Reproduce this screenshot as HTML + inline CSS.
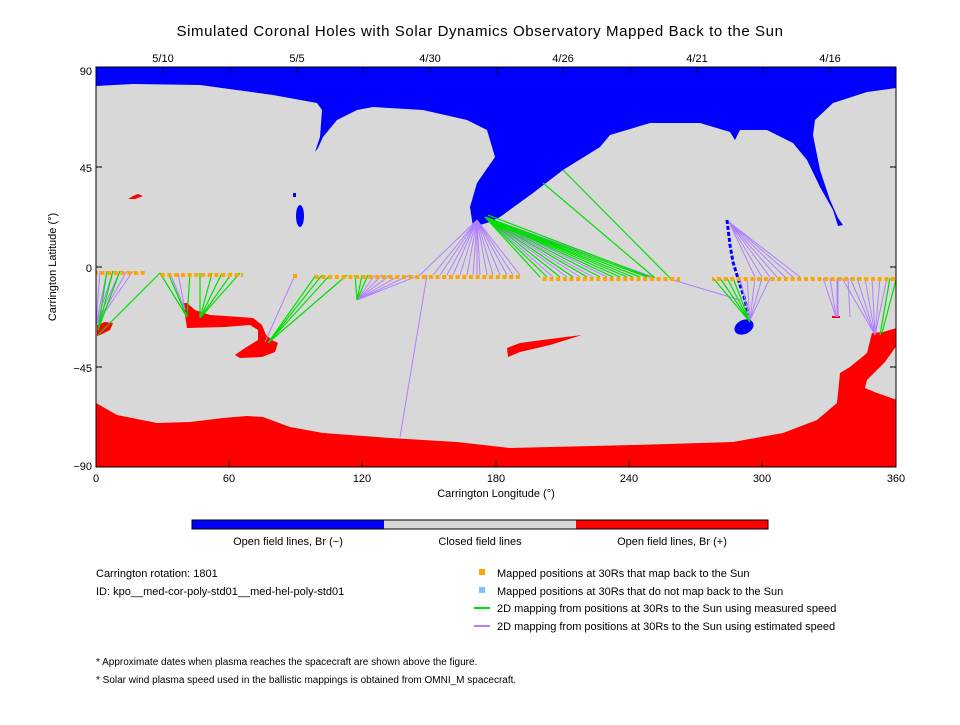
<!DOCTYPE html>
<html><head><meta charset="utf-8"><style>
body{margin:0;background:#fff;}
svg text{font-family:"Liberation Sans",sans-serif;fill:#000;}
</style></head><body>
<svg width="960" height="720" xmlns="http://www.w3.org/2000/svg">
<defs>
<pattern id="dots" x="0" y="0" width="6.7" height="720" patternUnits="userSpaceOnUse"><rect x="0" y="0" width="4" height="720" fill="#ffa500"/></pattern>
<clipPath id="pc"><rect x="96" y="67" width="800" height="400"/></clipPath>
</defs>
<text x="480" y="36" font-size="15" text-anchor="middle" letter-spacing="0.6">Simulated Coronal Holes with Solar Dynamics Observatory Mapped Back to the Sun</text>
<g clip-path="url(#pc)">
<rect x="96" y="67" width="800" height="400" fill="#d8d8d8"/>
<polygon fill="#0000ff" points="96,67 896,67 896,88 867,92 833,103 815,120 813,135 820,170 830,200 838,218 843,225 838,226 833,210 820,187 807,160 793,143 767,130 740,130 735,140 730,132 700,123 650,123 610,135 600,147 563,170 533,193 500,217 490,222 473,227 470,207 477,183 495,157 487,130 467,120 423,110 373,107 357,110 337,120 323,137 318,148 315,152 320,137 322,110 317,103 273,95 200,85 133,84 96,86"/>
<ellipse cx="300" cy="216" rx="4" ry="11" fill="#0000ff"/>
<rect x="293" y="193" width="3" height="4" fill="#0000ff"/>
<ellipse cx="744" cy="327" rx="10" ry="7" fill="#0000ff" transform="rotate(-25 744 327)"/>
<polyline points="727,220 730,245 733,262 740,285 745,300 748,315" fill="none" stroke="#0000ff" stroke-width="3" stroke-dasharray="4 2"/>
<polygon fill="#ff0000" points="96,403 117,415 157,423 190,422 223,418 247,416 263,417 290,427 323,433 390,438 457,442 510,448 633,445 733,442 783,433 817,420 837,403 840,373 850,367 867,353 872,333 883,332 897,328 897,345 885,362 867,380 865,388 877,393 897,400 897,467 96,467"/>
<polygon fill="#ff0000" points="97,325 105,322 113,323 110,330 100,335 97,336"/>
<polygon fill="#ff0000" points="183,303 187,303 195,310 210,315 240,317 253,318 262,325 266,335 272,340 278,343 275,352 262,357 240,358 235,355 245,348 258,340 258,330 250,325 225,327 187,328"/>
<polygon fill="#ff0000" points="128,199 133,196 138,194 143,196 135,199"/>
<polygon fill="#ff0000" points="507,348 520,343 550,339 582,335 550,345 520,352 508,357"/>
<rect x="832" y="316" width="8" height="2" fill="#ff0000"/>
<g stroke="#b080ff" stroke-width="1" fill="none">
<path d="M477 220L420 275M477 220L433 275M477 220L440 275M477 220L447 275M477 220L453 275M477 220L460 275M477 220L467 275M477 220L473 275M477 220L477 275M477 220L480 275M477 220L487 275M477 220L493 275M477 220L500 275M477 220L507 275M477 220L513 275M477 220L520 275"/>
<path d="M427 275L400 437"/>
<path d="M485 217L553 277M485 217L567 277M485 217L580 277M485 217L593 277M485 217L607 277M485 217L653 277"/>
<path d="M673 280L740 300"/>
<path d="M729 222L755 277M729 222L762 277M729 222L770 277M729 222L777 277M729 222L785 277M729 222L793 277M729 222L800 277"/>
<path d="M750 320L740 278M750 320L747 278M750 320L755 278M750 320L762 278M750 320L770 278"/>
<path d="M875 335L842 278M875 335L850 278M875 335L857 278M875 335L865 278M875 335L872 278M875 335L880 278M875 335L887 278"/>
<path d="M836 317L823 278M836 317L830 278M837 278L837 317M838 278L838 317M848 278L850 317"/>
<path d="M96 325L100 271M96 325L107 271M96 325L113 271M96 325L120 271M96 325L127 271M96 325L133 271M96 320L96 271"/>
<path d="M185 310L170 273M185 310L178 273M265 342L295 275"/>
<path d="M357 300L375 275M357 300L382 275M357 300L390 275M357 300L400 275M357 300L410 275M357 300L420 275"/>
</g>
<g stroke="#00e000" stroke-width="1.2" fill="none">
<path d="M485 217L540 277M485 217L547 277M485 217L560 277M485 217L573 277M485 217L587 277M485 217L600 277M485 217L613 277M485 217L620 277M485 217L627 277M485 217L633 277M485 217L640 277M485 217L647 277M488 215L650 277"/>
<path d="M543 183L655 278M563 170L670 278"/>
<path d="M750 322L713 278M750 322L720 278M750 322L727 278M750 322L733 278"/>
<path d="M880 335L890 278M882 333L896 280"/>
<path d="M98 330L107 271M98 330L113 271M98 330L120 271M98 335L160 273"/>
<path d="M187 317L160 273M187 317L168 273M187 317L190 273M200 318L200 273M200 318L212 273M200 318L222 273M200 318L232 273M200 318L240 273"/>
<path d="M268 343L316 275M268 343L322 275M268 343L330 275M268 343L347 275"/>
<path d="M357 300L355 275M357 300L362 275M357 300L368 275"/>
</g>
<rect x="96" y="271" width="50" height="4" fill="url(#dots)"/>
<rect x="158" y="273" width="85" height="4" fill="url(#dots)"/>
<rect x="293" y="274" width="4" height="4" fill="#ffa500"/>
<rect x="315" y="275" width="205" height="4" fill="url(#dots)"/>
<rect x="540" y="277" width="140" height="4" fill="url(#dots)"/>
<rect x="712" y="277" width="184" height="4" fill="url(#dots)"/>
</g>
<rect x="96" y="67" width="800" height="400" fill="none" stroke="#000" stroke-width="1"/>
<g stroke="#000" stroke-width="1">
<path d="M96 467v-6M229 467v-6M362 467v-6M496 467v-6M629 467v-6M762 467v-6M896 467v-6"/>
<path d="M163 67v6M230 67v6M297 67v6M363 67v6M430 67v6M497 67v6M563 67v6M630 67v6M697 67v6M763 67v6M830 67v6"/>
<path d="M96 167h6M96 267h6M96 367h6M896 167h-6M896 267h-6M896 367h-6"/>
</g>
<g font-size="11">
<text x="163" y="62" text-anchor="middle">5/10</text><text x="297" y="62" text-anchor="middle">5/5</text><text x="430" y="62" text-anchor="middle">4/30</text><text x="563" y="62" text-anchor="middle">4/26</text><text x="697" y="62" text-anchor="middle">4/21</text><text x="830" y="62" text-anchor="middle">4/16</text>
<text x="96" y="482" text-anchor="middle">0</text><text x="229" y="482" text-anchor="middle">60</text><text x="362" y="482" text-anchor="middle">120</text><text x="496" y="482" text-anchor="middle">180</text><text x="629" y="482" text-anchor="middle">240</text><text x="762" y="482" text-anchor="middle">300</text><text x="896" y="482" text-anchor="middle">360</text>
<text x="92" y="75" text-anchor="end">90</text><text x="92" y="172" text-anchor="end">45</text><text x="92" y="272" text-anchor="end">0</text><text x="92" y="372" text-anchor="end">−45</text><text x="92" y="470" text-anchor="end">−90</text>
<text x="496" y="497" text-anchor="middle">Carrington Longitude (°)</text>
<text transform="translate(56 267) rotate(-90)" text-anchor="middle">Carrington Latitude (°)</text>
</g>
<rect x="192" y="520" width="192" height="9" fill="#0000ff"/>
<rect x="384" y="520" width="192" height="9" fill="#d8d8d8"/>
<rect x="576" y="520" width="192" height="9" fill="#ff0000"/>
<rect x="192" y="520" width="576" height="9" fill="none" stroke="#000"/>
<g font-size="11">
<text x="288" y="545" text-anchor="middle">Open field lines, Br (−)</text>
<text x="480" y="545" text-anchor="middle">Closed field lines</text>
<text x="672" y="545" text-anchor="middle">Open field lines, Br (+)</text>
<text x="96" y="577">Carrington rotation: 1801</text>
<text x="96" y="595">ID: kpo__med-cor-poly-std01__med-hel-poly-std01</text>
<text x="497" y="577">Mapped positions at 30Rs that map back to the Sun</text>
<text x="497" y="595">Mapped positions at 30Rs that do not map back to the Sun</text>
<text x="497" y="612">2D mapping from positions at 30Rs to the Sun using measured speed</text>
<text x="497" y="630">2D mapping from positions at 30Rs to the Sun using estimated speed</text>
<text x="96" y="665" font-size="10">* Approximate dates when plasma reaches the spacecraft are shown above the figure.</text>
<text x="96" y="683" font-size="10">* Solar wind plasma speed used in the ballistic mappings is obtained from OMNI_M spacecraft.</text>
</g>
<rect x="479" y="569" width="6" height="6" fill="#ffa500"/>
<rect x="479" y="587" width="6" height="6" fill="#80c0ff"/>
<line x1="474" y1="608" x2="490" y2="608" stroke="#00e000" stroke-width="2"/>
<line x1="474" y1="626" x2="490" y2="626" stroke="#b080ff" stroke-width="2"/>
</svg>
</body></html>
